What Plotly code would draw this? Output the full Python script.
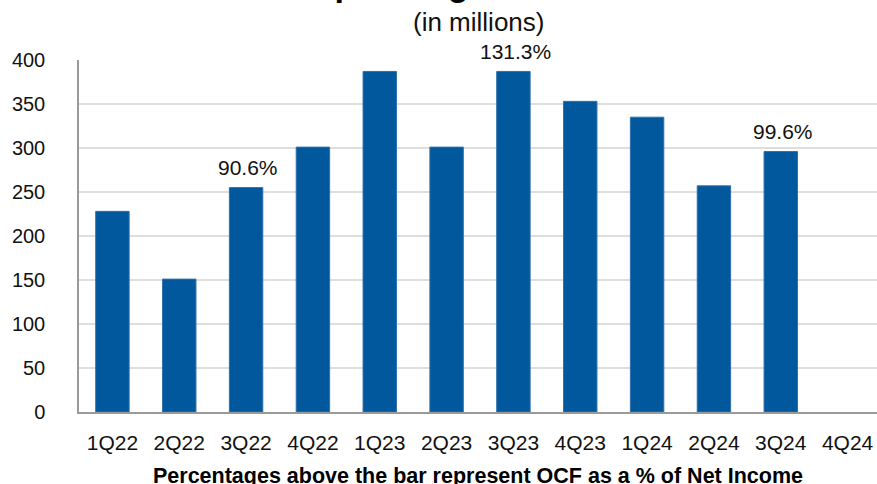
import plotly.graph_objects as go

quarters = ["1Q22", "2Q22", "3Q22", "4Q22", "1Q23", "2Q23", "3Q23", "4Q23",
            "1Q24", "2Q24", "3Q24", "4Q24"]
ocf = [228, 151, 255, 301, 387, 301, 387, 353, 335, 257, 296, None]
pct_quarters = ["3Q22", "3Q23", "3Q24"]
pct_labels = ["90.6%", "131.3%", "99.6%"]

FONT = "Liberation Sans, Arial, sans-serif"
BAR = "#01589d"

fig = go.Figure()
fig.add_trace(go.Bar(
    x=quarters, y=ocf,
    marker=dict(color=BAR, line=dict(color="#2f6fae", width=1)),
    hoverinfo="x+y",
))

lookup = dict(zip(quarters, ocf))
for q, lab in zip(pct_quarters, pct_labels):
    fig.add_annotation(x=q, y=lookup[q], text=lab, showarrow=False,
                       xref="x", yref="y", yanchor="middle", yshift=20, xshift=2,
                       font=dict(family=FONT, size=21, color="#111111"))

fig.add_annotation(x=0.5, y=1.2145, xref="paper", yref="paper",
                   text="<b>Operating Cash Flow</b>", showarrow=False,
                   yanchor="middle", font=dict(family=FONT, size=34, color="#000000"))
fig.add_annotation(x=0.5, y=1.108, xref="paper", yref="paper",
                   text="(in millions)", showarrow=False,
                   yanchor="middle", font=dict(family=FONT, size=26, color="#111111"))
fig.add_annotation(x=0.5, y=-0.1805, xref="paper", yref="paper",
                   text="<b>Percentages above the bar represent OCF as a % of Net Income</b>",
                   showarrow=False, yanchor="middle",
                   font=dict(family=FONT, size=21.5, color="#000000"))

fig.update_layout(
    width=877, height=484,
    margin=dict(l=79, r=0, t=60, b=72),
    paper_bgcolor="white", plot_bgcolor="white",
    showlegend=False, bargap=0.5,
    font=dict(family=FONT, size=20, color="#111111"),
)
fig.update_xaxes(
    type="category", categoryorder="array", categoryarray=quarters,
    range=[-0.5, 11.44],
    showline=True, linecolor="#9a9a9a", linewidth=1.5,
    showgrid=False, ticks="", ticklabelstandoff=11,
    tickfont=dict(family=FONT, size=21, color="#111111"),
)
fig.update_yaxes(
    range=[0, 400], tickvals=[0, 50, 100, 150, 200, 250, 300, 350, 400],
    showline=True, linecolor="#9a9a9a", linewidth=1.5,
    showgrid=True, gridcolor="#dedede", gridwidth=1.5,
    zeroline=False, ticks="", ticklabelstandoff=28,
    tickfont=dict(family=FONT, size=20, color="#111111"),
)

fig.write_html("out.html")
